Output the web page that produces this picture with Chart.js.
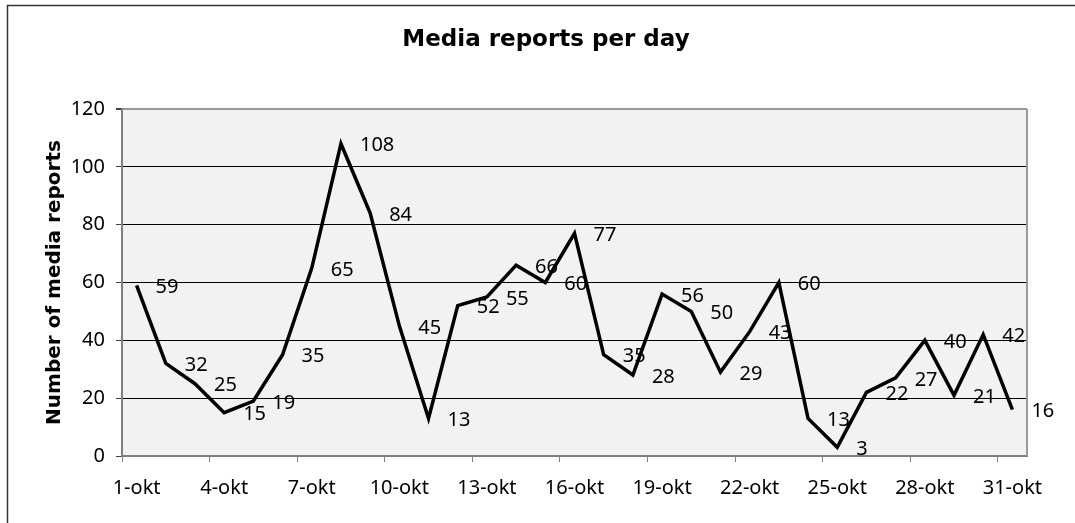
<!DOCTYPE html>
<html>
<head>
<meta charset="utf-8">
<script src="https://cdn.jsdelivr.net/npm/chart.js@4.4.1/dist/chart.umd.min.js"></script>
<style>
    html, body { margin: 0; padding: 0; background: #fff; }
    canvas { display: block; }
</style>
</head>
<body>
<canvas id="myChart" width="1075" height="523"></canvas>
<script>
// days of october, one label shown every 3rd day
const days = [
    '1-okt', '2-okt', '3-okt', '4-okt', '5-okt', '6-okt', '7-okt', '8-okt',
    '9-okt', '10-okt', '11-okt', '12-okt', '13-okt', '14-okt', '15-okt', '16-okt',
    '17-okt', '18-okt', '19-okt', '20-okt', '21-okt', '22-okt', '23-okt', '24-okt',
    '25-okt', '26-okt', '27-okt', '28-okt', '29-okt', '30-okt', '31-okt'
];
// number of media reports per day
const reports = [
    59, 32, 25, 15, 19, 35, 65, 108, 84, 45, 13, 52, 55, 66, 60, 77,
    35, 28, 56, 50, 29, 43, 60, 13, 3, 22, 27, 40, 21, 42, 16
];
const chartTitle = 'Media reports per day';
const yTitle = 'Number of media reports';
const yMin = 0;
const yMax = 120;
const yStep = 20;

const labelFont = { family: "'Noto Sans', 'Open Sans', sans-serif", size: 20 };

// grey plot area, outer frame and title
const backgroundPlugin = {
    id: 'background',
    beforeDraw(chart) {
        const ctx = chart.ctx;
        const a = chart.chartArea;
        ctx.save();
        ctx.fillStyle = '#f2f2f2';
        ctx.fillRect(a.left, a.top, a.right - a.left, a.bottom - a.top);
        // outer frame (left and top only, the rest is cut off)
        ctx.strokeStyle = '#333';
        ctx.lineWidth = 1.5;
        ctx.beginPath();
        ctx.moveTo(7.5, chart.height);
        ctx.lineTo(7.5, 5.5);
        ctx.lineTo(chart.width, 5.5);
        ctx.stroke();
        // title
        ctx.fillStyle = '#000';
        ctx.font = "bold 23px 'DejaVu Sans'";
        ctx.textAlign = 'center';
        ctx.textBaseline = 'alphabetic';
        ctx.fillText(chartTitle, 546, 46);
        ctx.restore();
    },
    beforeDatasetsDraw(chart) {
        const ctx = chart.ctx;
        const a = chart.chartArea;
        ctx.save();
        ctx.strokeStyle = '#999';
        ctx.lineWidth = 2;
        ctx.beginPath();
        ctx.moveTo(a.right, a.top);
        ctx.lineTo(a.right, a.bottom);
        ctx.stroke();
        ctx.restore();
    }
};

// value labels to the right of each point
const valueLabels = {
    id: 'valueLabels',
    afterDatasetsDraw(chart) {
        const ctx = chart.ctx;
        const meta = chart.getDatasetMeta(0);
        ctx.save();
        ctx.fillStyle = '#000';
        ctx.font = "20px 'Noto Sans', 'Open Sans', sans-serif";
        ctx.textAlign = 'left';
        ctx.textBaseline = 'middle';
        meta.data.forEach((pt, i) => {
            ctx.fillText(String(reports[i]), pt.x + 19, pt.y + 2);
        });
        ctx.restore();
    }
};

const ctx = document.getElementById('myChart').getContext('2d');
const myChart = new Chart(ctx, {
    type: 'line',
    data: {
        labels: days,
        datasets: [{
            label: 'Media reports',
            data: reports,
            borderColor: '#000',
            borderWidth: 3.5,
            pointRadius: 0,
            tension: 0,
            fill: false,
            clip: false
        }]
    },
    options: {
        responsive: false,
        animation: false,
        devicePixelRatio: 1,
        layout: {
            padding: { top: 109, left: 43, right: 48, bottom: 0 }
        },
        plugins: {
            legend: { display: false },
            title: { display: false },
            tooltip: { enabled: false }
        },
        scales: {
            x: {
                type: 'category',
                offset: true,
                grid: {
                    offset: true,
                    drawOnChartArea: false,
                    drawTicks: true,
                    tickLength: 6,
                    color: c => (c.index % 3 === 0 ? '#808080' : 'rgba(0,0,0,0)')
                },
                border: { color: '#808080', width: 2 },
                ticks: {
                    autoSkip: false,
                    maxRotation: 0,
                    padding: 14,
                    color: '#000',
                    font: labelFont,
                    callback: (v, i) => (i % 3 === 0 ? days[i] : '')
                },
                afterFit: s => { s.height = 67; }
            },
            y: {
                min: yMin,
                max: yMax,
                grid: {
                    color: c => {
                        if (c.tick.value === yMax) return '#999';
                        if (c.tick.value === yMin) return '#808080';
                        return '#000';
                    },
                    lineWidth: c => (c.tick.value === yMax ? 2 : 1),
                    tickColor: '#404040',
                    tickLength: 6
                },
                border: { color: '#808080', width: 2 },
                ticks: {
                    stepSize: yStep,
                    padding: 11,
                    color: '#000',
                    font: labelFont
                },
                title: {
                    display: true,
                    text: yTitle,
                    color: '#000',
                    padding: 0,
                    font: { family: "'DejaVu Sans'", size: 20, weight: 'bold' }
                },
                afterFit: s => { s.width = 79; }
            }
        }
    },
    plugins: [backgroundPlugin, valueLabels]
});
</script>
</body>
</html>
